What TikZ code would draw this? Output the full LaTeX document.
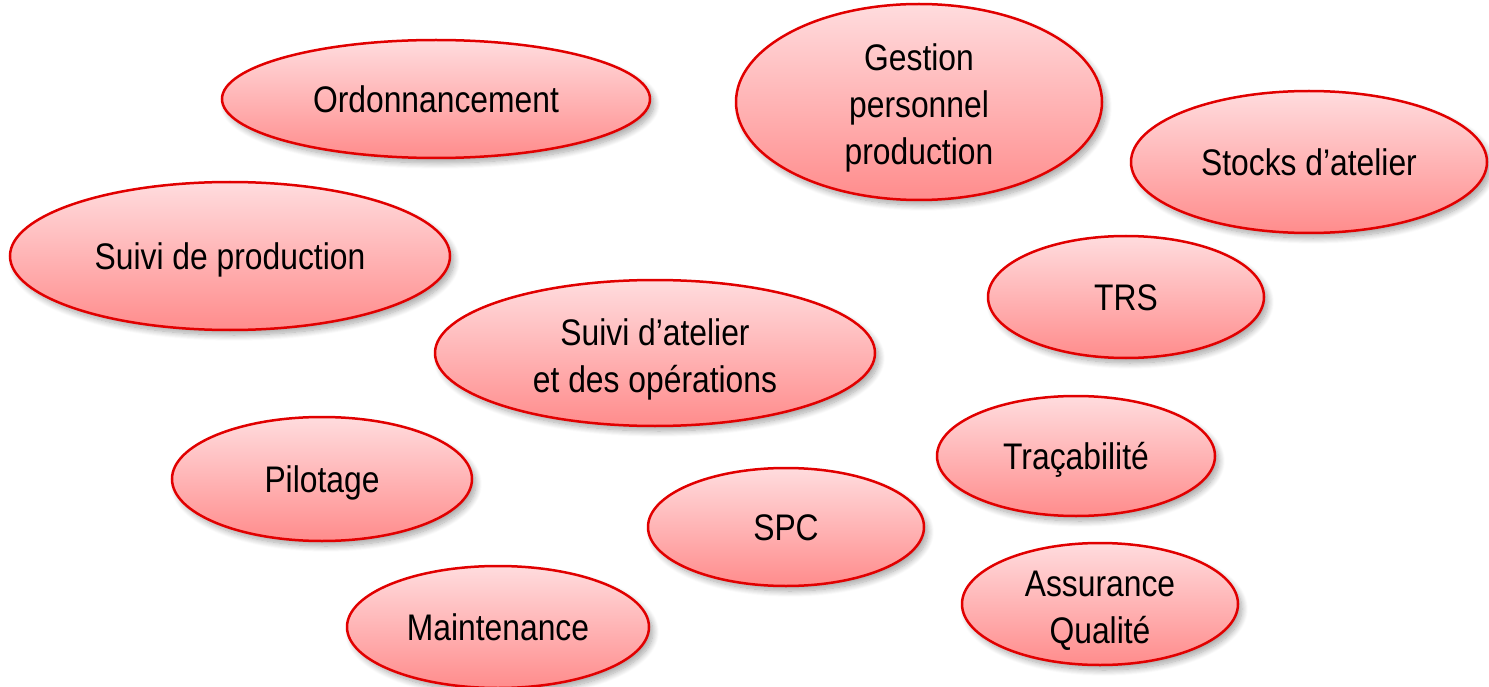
\documentclass[tikz,border=0pt]{standalone}
\usepackage{fontspec}
\setmainfont{Liberation Sans}[FakeStretch=0.86]
\usetikzlibrary{shapes.geometric,shadows.blur}
\definecolor{bred}{RGB}{225,0,0}
\definecolor{ptop}{RGB}{255,220,222}
\definecolor{pbot}{RGB}{255,140,140}
\tikzset{
  bub/.style={ellipse, draw=bred, line width=2.5pt, top color=ptop, bottom color=pbot,
    align=center, inner sep=0pt, text=black,
    font=\fontsize{37pt}{47pt}\selectfont,
    text depth=0pt, text height=27pt,
    blur shadow={shadow xshift=4pt, shadow yshift=-5pt, shadow blur steps=12, shadow opacity=35, shadow blur radius=6pt}},
  two/.style={text height=79pt},
  three/.style={text height=126pt},
}
\begin{document}
\begin{tikzpicture}[x=1pt,y=-1pt]
\useasboundingbox (0,0) rectangle (1489,687);
\node[bub, minimum width=428pt, minimum height=118pt] (ord) at (436,99) {Ordonnancement};
\node[bub, three, minimum width=366pt, minimum height=196pt] (gest) at (919,102) {Gestion\\personnel\\production};
\node[bub, minimum width=356pt, minimum height=142pt] (stock) at (1309,162) {Stocks d’atelier};
\node[bub, minimum width=440pt, minimum height=148pt] (suivi) at (230,256) {Suivi de production};
\node[bub, minimum width=276pt, minimum height=122pt] (trs) at (1126,297) {TRS};
\node[bub, two, minimum width=440pt, minimum height=146pt] (atel) at (655,353) {Suivi d’atelier\\et des opérations};
\node[bub, minimum width=300pt, minimum height=124pt] (pil) at (322,479) {Pilotage};
\node[bub, minimum width=278pt, minimum height=120pt] (trac) at (1076,456) {Traçabilité};
\node[bub, minimum width=276pt, minimum height=118pt] (spc) at (786,527) {SPC};
\node[bub, two, minimum width=276pt, minimum height=122pt] (aq) at (1100,604) {Assurance\\Qualité};
\node[bub, minimum width=302pt, minimum height=122pt] (maint) at (498,627) {Maintenance};
\end{tikzpicture}
\end{document}
